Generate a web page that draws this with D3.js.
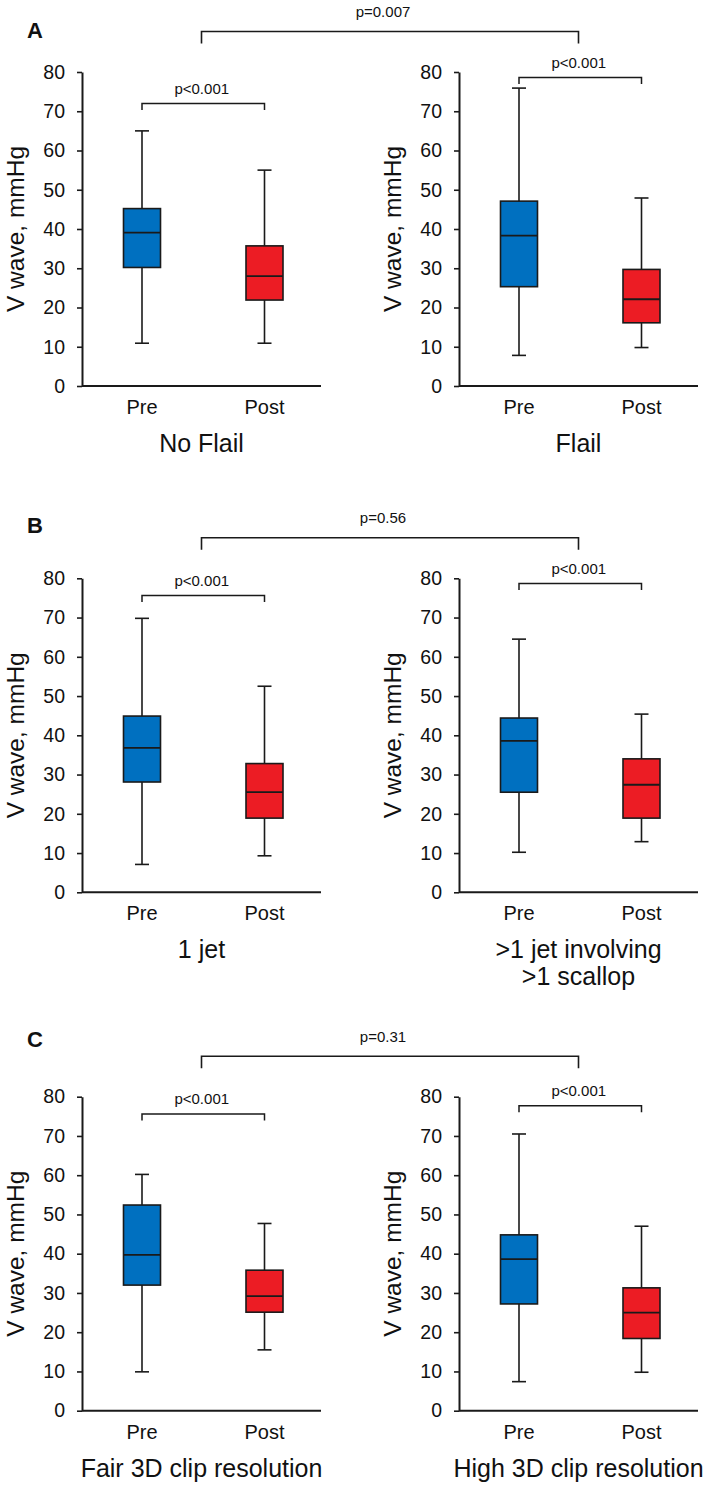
<!DOCTYPE html>
<html><head><meta charset="utf-8">
<script src="https://cdn.jsdelivr.net/npm/d3@7"></script>
<style>
body{margin:0;background:#fff}
text{font-family:"Liberation Sans",Arial,Helvetica,sans-serif;fill:#111}
</style>
</head><body>
<svg id="c" width="709" height="1493"></svg>
<script>
// ---------- data ----------
const panelLabels = ["No Flail","Flail","1 jet",">1 jet involving\n>1 scallop","Fair 3D clip resolution","High 3D clip resolution"];
const groups = ["Pre","Post"];
const yTicks = [0,10,20,30,40,50,60,70,80];
const preLow    = [10.9, 7.8, 7.1, 10.2, 9.9, 7.4];
const preQ1     = [30.2, 25.3, 28.1, 25.5, 32.0, 27.2];
const preMedian = [39.1, 38.3, 36.8, 38.6, 39.7, 38.6];
const preQ3     = [45.2, 47.1, 44.9, 44.4, 52.4, 44.8];
const preHigh   = [65.0, 75.9, 69.8, 64.5, 60.2, 70.5];
const postLow    = [10.9, 9.8, 9.3, 12.9, 15.5, 9.8];
const postQ1     = [21.9, 16.1, 18.9, 18.9, 25.1, 18.4];
const postMedian = [28.0, 22.1, 25.5, 27.4, 29.2, 25.0];
const postQ3     = [35.7, 29.7, 32.8, 34.0, 35.8, 31.3];
const postHigh   = [55.0, 47.9, 52.5, 45.4, 47.7, 47.0];
const withinP = ["p<0.001","p<0.001","p<0.001","p<0.001","p<0.001","p<0.001"];
const betweenP = ["p=0.007","p=0.56","p=0.31"];
const rowLetters = ["A","B","C"];
const yLabel = "V wave, mmHg";
// annotation bracket heights (in axis units)
const withinLevel = [72.0, 78.6, 75.6, 78.7, 75.6, 77.7];

// ---------- layout ----------
const colors = {Pre:"#0070c0", Post:"#ec1c24"};
const ink = "#1a1a1a";
const rowTop = [72, 578.3, 1096.7];
const letterBase = [38, 533, 1047];
const axisX = [82, 459];
const plotH = 314, plotW = 239;
const boxW = 37, capW = 14;

const svg = d3.select("#c");
const y = d3.scaleLinear().domain([0,80]).range([plotH,0]);
const x = d3.scalePoint().domain(groups).range([60,182.5]);

panelLabels.forEach((lab,i)=>{
  const col = i%2, row = Math.floor(i/2);
  const g = svg.append("g").attr("transform",`translate(${axisX[col]},${rowTop[row]})`);

  // y axis
  const ax = g.append("g").call(d3.axisLeft(y).tickValues(yTicks).tickSize(5).tickSizeOuter(0).tickPadding(12));
  ax.select(".domain").attr("stroke",ink).attr("stroke-width",2);
  ax.selectAll(".tick line").attr("stroke",ink).attr("stroke-width",1.6);
  ax.selectAll(".tick text").attr("font-size",19.5).attr("fill","#111")
    .style("font-family",'"Liberation Sans",Arial,sans-serif');
  // x axis line
  g.append("line").attr("x1",0).attr("x2",plotW).attr("y1",y(0)).attr("y2",y(0))
    .attr("stroke",ink).attr("stroke-width",2);

  // y label
  g.append("text").attr("transform",`translate(-58,${plotH/2}) rotate(-90)`)
    .attr("text-anchor","middle").attr("font-size",24.5).text(yLabel);

  // boxes
  const stats = {
    Pre:[preLow[i],preQ1[i],preMedian[i],preQ3[i],preHigh[i]],
    Post:[postLow[i],postQ1[i],postMedian[i],postQ3[i],postHigh[i]]
  };
  groups.forEach(gr=>{
    const [lo,q1,md,q3,hi] = stats[gr];
    const cx = x(gr);
    const b = g.append("g");
    b.append("line").attr("x1",cx).attr("x2",cx).attr("y1",y(hi)).attr("y2",y(lo))
      .attr("stroke",ink).attr("stroke-width",1.6);
    [lo,hi].forEach(v=>b.append("line").attr("x1",cx-capW/2).attr("x2",cx+capW/2)
      .attr("y1",y(v)).attr("y2",y(v)).attr("stroke",ink).attr("stroke-width",1.6));
    b.append("rect").attr("x",cx-boxW/2).attr("width",boxW).attr("y",y(q3)).attr("height",y(q1)-y(q3))
      .attr("fill",colors[gr]).attr("stroke",ink).attr("stroke-width",1.6);
    b.append("line").attr("x1",cx-boxW/2).attr("x2",cx+boxW/2).attr("y1",y(md)).attr("y2",y(md))
      .attr("stroke",ink).attr("stroke-width",1.8);
    // group label
    g.append("text").attr("x",cx).attr("y",plotH+28).attr("text-anchor","middle")
      .attr("font-size",20).text(gr);
  });

  // within-panel bracket
  const yb = y(withinLevel[i]);
  g.append("path").attr("d",`M${x("Pre")},${yb+6.5}V${yb}H${x("Post")}V${yb+6.5}`)
    .attr("fill","none").attr("stroke",ink).attr("stroke-width",1.5);
  g.append("text").attr("x",(x("Pre")+x("Post"))/2 - 1.5).attr("y",yb-9.5)
    .attr("text-anchor","middle").attr("font-size",15).text(withinP[i]);

  // panel label
  const lines = lab.split("\n");
  const t = g.append("text").attr("x",plotW/2).attr("y",plotH+66).attr("text-anchor","middle").attr("font-size",25);
  lines.forEach((ln,k)=>t.append("tspan").attr("x",plotW/2).attr("dy",k===0?0:26.7).text(ln));
});

// row letters and between-panel brackets
rowTop.forEach((top,r)=>{
  svg.append("text").attr("x",27).attr("y",letterBase[r]).attr("font-size",22)
    .attr("font-weight","bold").text(rowLetters[r]);
  const x1 = axisX[0]+plotW/2, x2 = axisX[1]+plotW/2;
  const yb = top-40.5;
  svg.append("path").attr("d",`M${x1},${top-28.5}V${yb}H${x2}V${top-28.5}`)
    .attr("fill","none").attr("stroke",ink).attr("stroke-width",1.6);
  svg.append("text").attr("x",383).attr("y",top-55).attr("text-anchor","middle")
    .attr("font-size",15).text(betweenP[r]);
});
</script>
</body></html>
